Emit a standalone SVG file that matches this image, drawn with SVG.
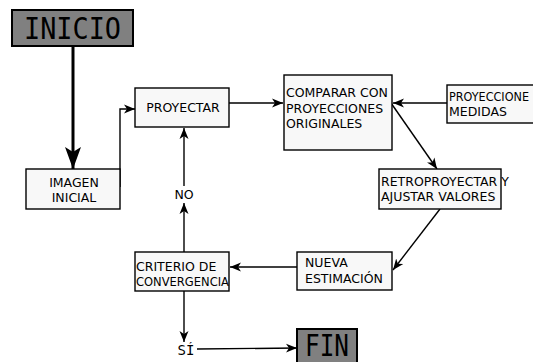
<svg xmlns="http://www.w3.org/2000/svg" width="533" height="362" viewBox="0 0 533 362">
<style>
.box{fill:#f8f8f8;stroke:#000;stroke-width:1.4}
.dark{fill:#808080;stroke:#000;stroke-width:2}
.t{font-family:"DejaVu Sans",sans-serif;font-size:12.5px;fill:#000}
.big{font-family:"DejaVu Sans Mono",monospace;font-size:30px;fill:#000}
.c{fill:none;stroke:#000;stroke-width:1.4}
</style>
<defs>
<marker id="a" markerWidth="12" markerHeight="10" refX="11" refY="5" orient="auto" markerUnits="userSpaceOnUse">
<path d="M11,5 L0,0.5 L3,5 L0,9.5 Z" fill="#000"/>
</marker>
<marker id="ab" markerWidth="24" markerHeight="20" refX="22" refY="10" orient="auto" markerUnits="userSpaceOnUse">
<path d="M22,10 L0,2 L5,10 L0,18 Z" fill="#000"/>
</marker>
</defs>
<g id="connectors">
<line x1="73" y1="47" x2="73" y2="169" stroke="#000" stroke-width="3" marker-end="url(#ab)"/>
<polyline class="c" points="120,187 120,109 135,109" marker-end="url(#a)"/>
<line class="c" x1="229" y1="103" x2="283" y2="103" marker-end="url(#a)"/>
<line class="c" x1="447" y1="103" x2="393" y2="103" marker-end="url(#a)"/>
<line class="c" x1="391" y1="103" x2="437" y2="169" marker-end="url(#a)"/>
<line class="c" x1="440" y1="209" x2="393" y2="270" marker-end="url(#a)"/>
<line class="c" x1="297" y1="267" x2="230" y2="267" marker-end="url(#a)"/>
<line class="c" x1="184" y1="252" x2="184" y2="203" marker-end="url(#a)"/>
<line class="c" x1="184" y1="186" x2="184" y2="128" marker-end="url(#a)"/>
<line class="c" x1="184" y1="291" x2="184" y2="342" marker-end="url(#a)"/>
<line class="c" x1="197" y1="349" x2="297" y2="348" marker-end="url(#a)"/>
</g>
<g id="inicio">
<rect class="dark" x="12" y="10" width="121" height="36"/>
<text class="big" x="72.5" y="38.5" text-anchor="middle" textLength="97" lengthAdjust="spacingAndGlyphs">INICIO</text>
</g>
<g id="imagen">
<rect class="box" x="26" y="169" width="94" height="40"/>
<text class="t" x="74" y="187" text-anchor="middle">IMAGEN</text>
<text class="t" x="74" y="202" text-anchor="middle">INICIAL</text>
</g>
<g id="proyectar">
<rect class="box" x="135" y="88" width="94" height="39"/>
<text class="t" x="183" y="112" text-anchor="middle" font-size="13">PROYECTAR</text>
</g>
<g id="comparar">
<rect class="box" x="284" y="75" width="108" height="75" stroke-width="2"/>
<text class="t" x="286" y="97">COMPARAR CON</text>
<text class="t" x="286" y="112.5">PROYECCIONES</text>
<text class="t" x="286" y="128">ORIGINALES</text>
</g>
<g id="medidas">
<rect class="box" x="447" y="85" width="95" height="38"/>
<text class="t" x="449" y="101" textLength="80" lengthAdjust="spacingAndGlyphs">PROYECCIONE</text>
<text class="t" x="449" y="116">MEDIDAS</text>
</g>
<g id="retro">
<rect class="box" x="379" y="169" width="122" height="40"/>
<text class="t" x="381" y="186" font-size="11.5">RETROPROYECTAR Y</text>
<text class="t" x="381" y="201" font-size="11.5">AJUSTAR VALORES</text>
</g>
<g id="nueva">
<rect class="box" x="297" y="252" width="95" height="38"/>
<text class="t" x="305" y="267" font-size="13">NUEVA</text>
<text class="t" x="305" y="283" font-size="13">ESTIMACIÓN</text>
</g>
<g id="criterio">
<rect class="box" x="135" y="252" width="94" height="39"/>
<text class="t" x="136" y="271" font-size="12">CRITERIO DE</text>
<text class="t" x="136" y="286" textLength="93" lengthAdjust="spacingAndGlyphs">CONVERGENCIA</text>
</g>
<g id="no">
<text class="t" x="184" y="199" text-anchor="middle" font-size="13">NO</text>
</g>
<g id="si">
<text x="186" y="355" text-anchor="middle" font-family="DejaVu Sans Mono,monospace" font-size="14">SÍ</text>
</g>
<g id="fin">
<rect class="dark" x="297" y="329" width="60" height="40"/>
<text class="big" x="327" y="356" text-anchor="middle" textLength="44" lengthAdjust="spacingAndGlyphs">FIN</text>
</g>
</svg>
